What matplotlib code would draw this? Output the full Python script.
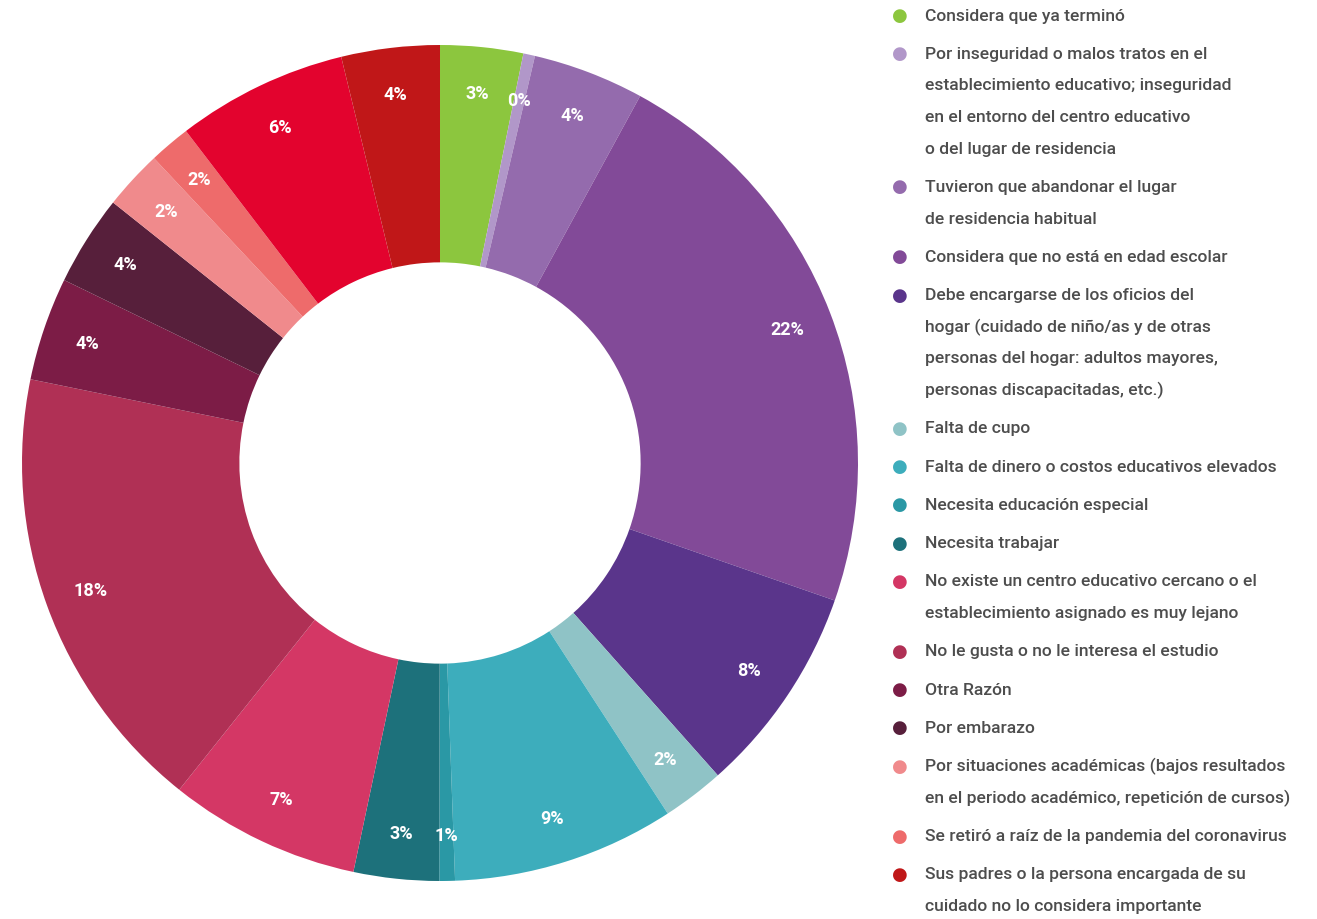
import matplotlib
matplotlib.use('Agg')
import matplotlib.pyplot as plt
import numpy as np

# slice order clockwise from 12 o'clock
motivos = [
    'Considera que ya terminó',
    'Por inseguridad o malos tratos en el\nestablecimiento educativo; inseguridad\nen el entorno del centro educativo\no del lugar de residencia',
    'Tuvieron que abandonar el lugar\nde residencia habitual',
    'Considera que no está en edad escolar',
    'Debe encargarse de los oficios del\nhogar (cuidado de niño/as y de otras\npersonas del hogar: adultos mayores,\npersonas discapacitadas, etc.)',
    'Falta de cupo',
    'Falta de dinero o costos educativos elevados',
    'Necesita educación especial',
    'Necesita trabajar',
    'No existe un centro educativo cercano o el\nestablecimiento asignado es muy lejano',
    'No le gusta o no le interesa el estudio',
    'Otra Razón',
    'Por embarazo',
    'Por situaciones académicas (bajos resultados\nen el periodo académico, repetición de cursos)',
    'Se retiró a raíz de la pandemia del coronavirus',
    '',  # red slice with no legend entry
    'Sus padres o la persona encargada de su\ncuidado no lo considera importante',
]
valores = [3.2, 0.45, 4.3, 22.4, 8.1, 2.4, 8.6, 0.6, 3.3, 7.4, 17.5, 4.0, 3.5, 2.3, 1.6, 6.6, 3.8]
etiquetas = ['3%', '0%', '4%', '22%', '8%', '2%', '9%', '1%', '3%', '7%', '18%',
             '4%', '4%', '2%', '2%', '6%', '4%']
colores = ['#8cc63e', '#b197c9', '#946bad', '#824a98', '#5a358b', '#8fc3c6',
           '#3dadbc', '#2a98a5', '#1d717b', '#d43765', '#b03055', '#7c1c46',
           '#571f3b', '#f08a8c', '#ee6b6b', '#e3032e', '#c01718']

W, H = 1317, 920
fig = plt.figure(figsize=(W / 100, H / 100), dpi=100)
cx, cy, R = 440, 464, 418
ax = fig.add_axes([(cx - R) / W, (H - cy - R) / H, 2 * R / W, 2 * R / H])

wedges, _ = ax.pie(valores, colors=colores, startangle=90, counterclock=False,
                   radius=1, wedgeprops=dict(width=0.52, linewidth=0))

# percent labels near the outer rim
for w, lab in zip(wedges, etiquetas):
    ang = np.deg2rad((w.theta1 + w.theta2) / 2)
    r = 0.89
    ax.text(r * np.cos(ang), r * np.sin(ang), lab, ha='center', va='center',
            color='white', fontsize=13, fontweight='bold', family='Roboto')

ax.set_xlim(-1, 1)
ax.set_ylim(-1, 1)
ax.axis('off')

# legend drawn by hand on the right
line_h = 31.6
gap = 38.3
y = 16
for m, c in zip(motivos, colores):
    if not m:
        continue
    fig.text(900 / W, 1 - y / H, '\u25cf', color=c, fontsize=13, ha='center', va='center')
    lines = m.split('\n')
    for i, ln in enumerate(lines):
        fig.text(925 / W, 1 - (y + i * line_h) / H, ln, color='#4d4d4d',
                 fontsize=12.6, fontweight='medium', ha='left', va='center',
                 family='Roboto')
    y += (len(lines) - 1) * line_h + gap

fig.savefig('out.png', dpi=100)
